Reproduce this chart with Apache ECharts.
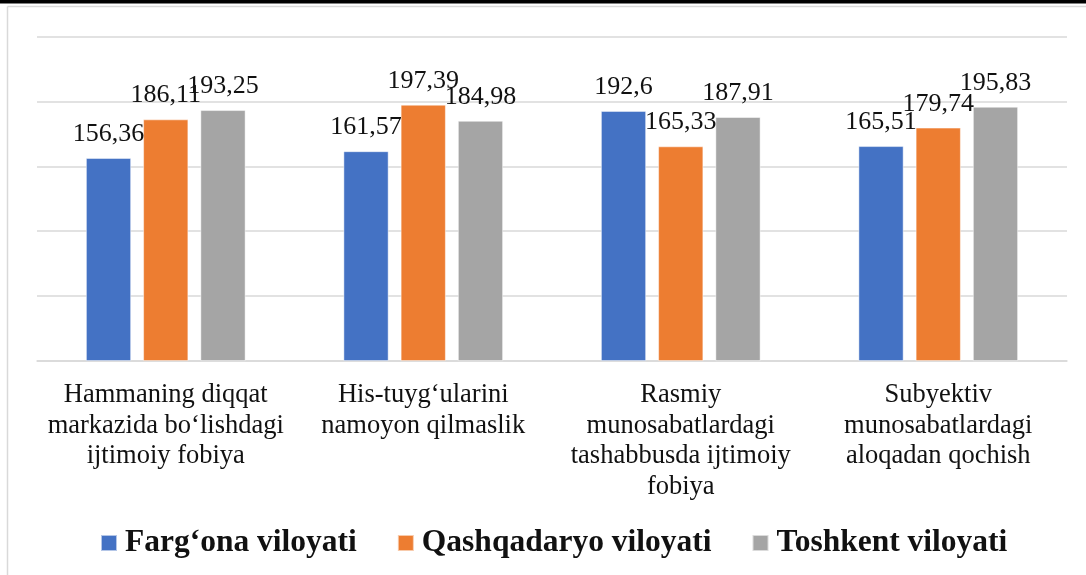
<!DOCTYPE html>
<html>
<head>
<meta charset="utf-8">
<script src="https://cdn.jsdelivr.net/npm/echarts@6/dist/echarts.min.js"></script>
<style>
  html, body { margin: 0; padding: 0; background: #fff; }
  #main { width: 1086px; height: 575px; }
</style>
</head>
<body>
<div id="main"></div>
<script>
var categories = [
  'Hammaning diqqat\nmarkazida bo‘lishdagi\nijtimoiy fobiya',
  'His-tuyg‘ularini\nnamoyon qilmaslik',
  'Rasmiy\nmunosabatlardagi\ntashabbusda ijtimoiy\nfobiya',
  'Subyektiv\nmunosabatlardagi\naloqadan qochish'
];
var seriesNames = ['Farg‘ona viloyati', 'Qashqadaryo viloyati', 'Toshkent viloyati'];
var fargona = [156.36, 161.57, 192.6, 165.51];
var qashqadaryo = [186.11, 197.39, 165.33, 179.74];
var toshkent = [193.25, 184.98, 187.91, 195.83];
var colors = ['#4472C4', '#ED7D31', '#A5A5A5'];

var serif = 'Liberation Serif';

function makeSeries(name, data, color) {
  return {
    name: name,
    type: 'bar',
    data: data,
    barWidth: '17.5%',
    barGap: '27%',
    itemStyle: { color: color, borderColor: 'rgba(255,255,255,0.6)', borderWidth: 0.8 },
    label: {
      show: true,
      position: 'top',
      distance: 11,
      color: '#111',
      fontFamily: serif,
      fontSize: 26,
      formatter: function (p) { return String(p.value).replace('.', ','); }
    }
  };
}

var myChart = echarts.init(document.getElementById('main'));
myChart.setOption({
  animation: false,
  color: colors,
  textStyle: { fontFamily: serif },
  graphic: [
    { type: 'rect', shape: { x: 0, y: 0, width: 1086, height: 3.5 }, style: { fill: '#000' } },
    { type: 'line', shape: { x1: 7.5, y1: 6.5, x2: 1086, y2: 6.5 }, style: { stroke: '#d9d9d9', lineWidth: 1.5 } },
    { type: 'line', shape: { x1: 7.5, y1: 6.5, x2: 7.5, y2: 575 }, style: { stroke: '#d9d9d9', lineWidth: 1.5 } }
  ],
  grid: { left: 37, right: 19, top: 36.5, bottom: 214, containLabel: false },
  legend: {
    data: seriesNames,
    left: 100,
    top: 527,
    padding: 0,
    itemWidth: 16,
    itemHeight: 16,
    itemGap: 40,
    icon: 'rect',
    textStyle: { fontFamily: serif, fontSize: 31.5, fontWeight: 'bold', color: '#111', padding: [0, 0, 0, 3] }
  },
  xAxis: {
    type: 'category',
    data: categories,
    axisLine: { lineStyle: { color: '#d9d9d9', width: 1.5 } },
    axisTick: { show: false },
    axisLabel: {
      interval: 0,
      margin: 19,
      color: '#111',
      fontFamily: serif,
      fontSize: 26.5,
      lineHeight: 30.5
    }
  },
  yAxis: {
    type: 'value',
    min: 0,
    max: 250,
    interval: 50,
    axisLabel: { show: false },
    axisLine: { show: false },
    axisTick: { show: false },
    splitLine: { lineStyle: { color: '#d9d9d9', width: 1.5 } }
  },
  series: [
    makeSeries(seriesNames[0], fargona, colors[0]),
    makeSeries(seriesNames[1], qashqadaryo, colors[1]),
    makeSeries(seriesNames[2], toshkent, colors[2])
  ]
});
</script>
</body>
</html>
